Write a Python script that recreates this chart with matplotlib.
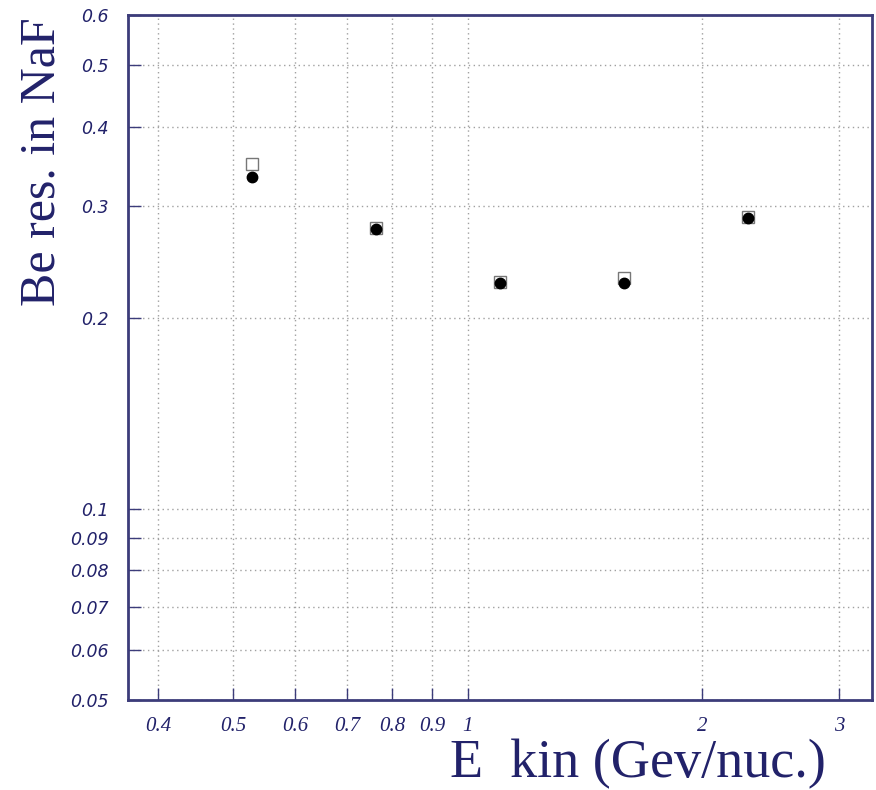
import matplotlib
matplotlib.use('Agg')
from matplotlib import pyplot as plt
from matplotlib.ticker import FixedLocator, FixedFormatter, NullLocator

# kinetic energy per nucleon (GeV/nuc.)
ekin = [0.529, 0.762, 1.099, 1.585, 2.293]
# Be resolution in NaF, two samples
res_open = [0.349, 0.277, 0.228, 0.231, 0.288]
res_full = [0.333, 0.276, 0.227, 0.227, 0.287]

xticks = [0.4, 0.5, 0.6, 0.7, 0.8, 0.9, 1, 2, 3]
xlabels = ['0.4', '0.5', '0.6', '0.7', '0.8', '0.9', '1', '2', '3']
yticks = [0.05, 0.06, 0.07, 0.08, 0.09, 0.1, 0.2, 0.3, 0.4, 0.5, 0.6]
ylabels = ['0.05', '0.06', '0.07', '0.08', '0.09', '0.1', '0.2', '0.3', '0.4', '0.5', '0.6']

navy = '#22226a'
frame = '#3c3c7a'

fig = plt.figure(figsize=(8.76, 7.90), dpi=100)
ax = fig.add_axes([0.146, 0.114, 0.849, 0.867])
ax.set_xscale('log')
ax.set_yscale('log')
ax.set_xlim(0.366, 3.3)
ax.set_ylim(0.05, 0.6)

ax.xaxis.set_major_locator(FixedLocator(xticks))
ax.xaxis.set_major_formatter(FixedFormatter(xlabels))
ax.xaxis.set_minor_locator(NullLocator())
ax.yaxis.set_major_locator(FixedLocator(yticks))
ax.yaxis.set_major_formatter(FixedFormatter(ylabels))
ax.yaxis.set_minor_locator(NullLocator())

ax.grid(True, color='#a0a0a0', linestyle=(0, (1, 2.5)), linewidth=1.0)
ax.tick_params(direction='in', length=9, width=1, color=frame)
ax.tick_params(axis='x', pad=12)
ax.tick_params(axis='y', pad=14)
for lab in ax.get_xticklabels():
    lab.set_family('Liberation Serif')
    lab.set_style('italic')
    lab.set_fontsize(15)
    lab.set_color(navy)
for lab in ax.get_yticklabels():
    lab.set_family('DejaVu Sans')
    lab.set_style('italic')
    lab.set_fontsize(12.5)
    lab.set_color(navy)
for s in ax.spines.values():
    s.set_color(frame)
    s.set_linewidth(2)

ax.plot(ekin, res_open, linestyle='none', marker='s', markersize=8,
        markerfacecolor='white', markeredgecolor='#777777', markeredgewidth=1)
ax.plot(ekin, res_full, linestyle='none', marker='o', markersize=7.5,
        color='black')

fig.text(0.048, 0.978, 'Be res. in NaF', rotation=90, ha='center', va='top',
         fontsize=36, family='Liberation Serif', color=navy)
fig.text(0.943, 0.001, 'E  kin (Gev/nuc.)', ha='right', va='bottom',
         fontsize=39, family='Liberation Serif', color=navy)

fig.savefig('out.png', dpi=100)
